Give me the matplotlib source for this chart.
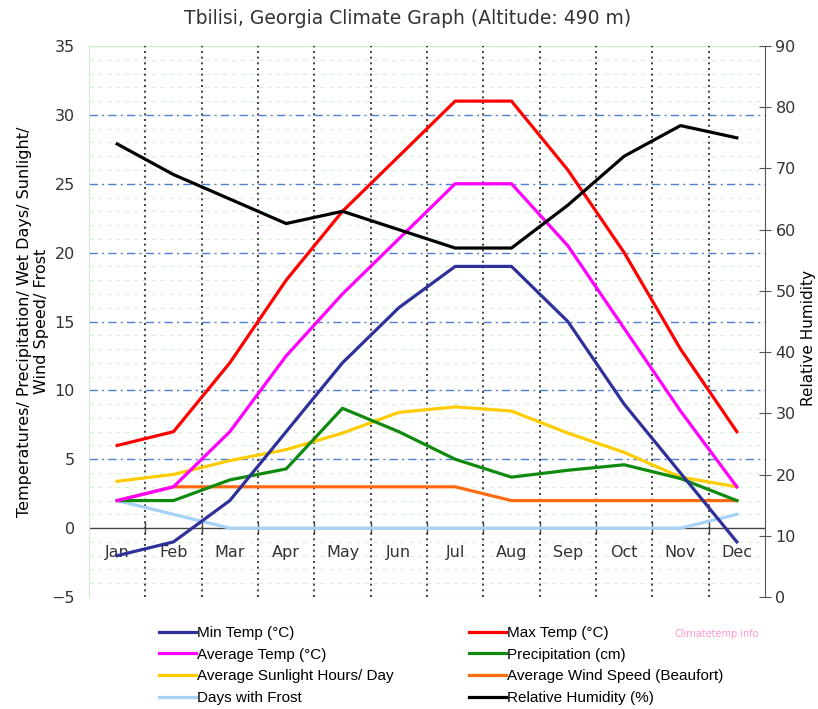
# Tbilisi climate graph
import matplotlib
matplotlib.use("Agg")
import matplotlib.pyplot as plt
from matplotlib.lines import Line2D

months = ["Jan", "Feb", "Mar", "Apr", "May", "Jun", "Jul", "Aug", "Sep", "Oct", "Nov", "Dec"]

min_temp = [-2, -1, 2, 7, 12, 16, 19, 19, 15, 9, 4, -1]
max_temp = [6, 7, 12, 18, 23, 27, 31, 31, 26, 20, 13, 7]
avg_temp = [2, 3, 7, 12.5, 17, 21, 25, 25, 20.5, 14.5, 8.5, 3]
precip = [2, 2, 3.5, 4.3, 8.7, 7, 5, 3.7, 4.2, 4.6, 3.6, 2]
sunlight = [3.4, 3.9, 4.9, 5.7, 6.9, 8.4, 8.8, 8.5, 6.9, 5.5, 3.7, 3.0]
wind = [2, 3, 3, 3, 3, 3, 3, 2, 2, 2, 2, 2]
frost = [2, 1, 0, 0, 0, 0, 0, 0, 0, 0, 0, 1]
humidity = [74, 69, 65, 61, 63, 60, 57, 57, 64, 72, 77, 75]

fig = plt.figure(figsize=(8.18, 7.09), dpi=100)
ax = fig.add_axes([89 / 818, 1 - 597 / 709, 676 / 818, 551 / 709])
x = list(range(12))
ax.set_xlim(-0.5, 11.5)
ax.set_ylim(-5, 35)

# grid: minor green every unit, blue dash-dot every 5
for v in range(-4, 35):
    if v % 5 == 0:
        continue
    ax.axhline(v, color="#d4f5d4", lw=0.8, ls=(0, (4, 4)), zorder=0)
for v in range(5, 35, 5):
    ax.axhline(v, color="#4f7fcf", lw=1.0, ls=(0, (6, 3, 1.5, 3)), zorder=0.5)
ax.axhline(35, color="#c8f0c8", lw=1.0, zorder=0)
ax.axhline(-5, color="#c8f0c8", lw=1.0, zorder=0)
for b in range(11):
    ax.axvline(b + 0.5, color="#222222", lw=1.2, ls=(0, (1.2, 2.2)), zorder=0.6)

# zero axis with ticks
ax.axhline(0, color="#444444", lw=1.0, zorder=1)
ax.vlines([b + 0.5 for b in range(11)], -0.45, 0.45, color="#444444", lw=1.0, zorder=1)
for i, m in enumerate(months):
    ax.text(i, -1.8, m, ha="center", va="center", fontsize=11.5, color="#333333")

lw = 2.3
ax.plot(x, wind, color="#ff6a13", lw=lw, zorder=3)
ax.plot(x, frost, color="#a6d2f5", lw=lw, zorder=3)
ax.plot(x, sunlight, color="#ffcc00", lw=lw, zorder=3)
ax.plot(x, precip, color="#0f8a0f", lw=lw, zorder=3)
ax.plot(x, avg_temp, color="#ff00ff", lw=lw, zorder=3)
ax.plot(x, max_temp, color="#ff0000", lw=lw, zorder=3)
ax.plot(x, min_temp, color="#30309a", lw=lw, zorder=4)

ax.set_xticks([])
ax.set_yticks(range(-5, 36, 5))
ax.tick_params(axis="y", length=0, labelsize=11.5, labelcolor="#333333", pad=10)
for s in ["top", "right", "bottom"]:
    ax.spines[s].set_visible(False)
ax.spines["left"].set_color("#c8f0c8")
ax.set_ylabel("Temperatures/ Precipitation/ Wet Days/ Sunlight/\nWind Speed/ Frost",
              fontsize=11.5, linespacing=1.15)
ax.yaxis.set_label_coords(-40 / 676, 0.5)

ax2 = ax.twinx()
ax2.set_ylim(0, 90)
ax2.set_yticks(range(0, 91, 10))
ax2.plot(x, humidity, color="black", lw=lw, zorder=5)
for s in ["top", "left", "bottom"]:
    ax2.spines[s].set_visible(False)
ax2.spines["right"].set_color("#555555")
ax2.tick_params(axis="y", direction="inout", length=8, labelsize=11.5,
                labelcolor="#333333", color="#555555")
ax2.set_ylabel("Relative Humidity", fontsize=11)
ax2.yaxis.set_label_coords(1 + 36 / 676, 0.47)

fig.text(408 / 818, 1 - 19 / 709, "Tbilisi, Georgia Climate Graph (Altitude: 490 m)",
         ha="center", va="center", fontsize=13.5, color="#333333")

# legend in two columns
fam = ["Liberation Sans Narrow", "Liberation Sans", "DejaVu Sans"]
col1 = [("Min Temp (°C)", "#30309a"), ("Average Temp (°C)", "#ff00ff"),
        ("Average Sunlight Hours/ Day", "#ffcc00"), ("Days with Frost", "#a6d2f5")]
col2 = [("Max Temp (°C)", "#ff0000"), ("Precipitation (cm)", "#0f8a0f"),
        ("Average Wind Speed (Beaufort)", "#ff6a13"), ("Relative Humidity (%)", "black")]
for col, xpos in [(col1, 159 / 818), (col2, 469 / 818)]:
    handles = [Line2D([], [], color=c, lw=2.3) for _, c in col]
    fig.legend(handles, [t for t, _ in col], loc="upper left",
               bbox_to_anchor=(xpos, 1 - 626 / 709), frameon=False,
               handlelength=2.4, handletextpad=0.1, labelspacing=0.5,
               borderaxespad=0, borderpad=0, prop={"family": fam, "size": 11})

fig.text(717 / 818, 1 - 634 / 709, "Climatetemp.info", ha="center", va="center",
         fontsize=7, color="#ff99cc")

fig.savefig("out.png", dpi=100)
